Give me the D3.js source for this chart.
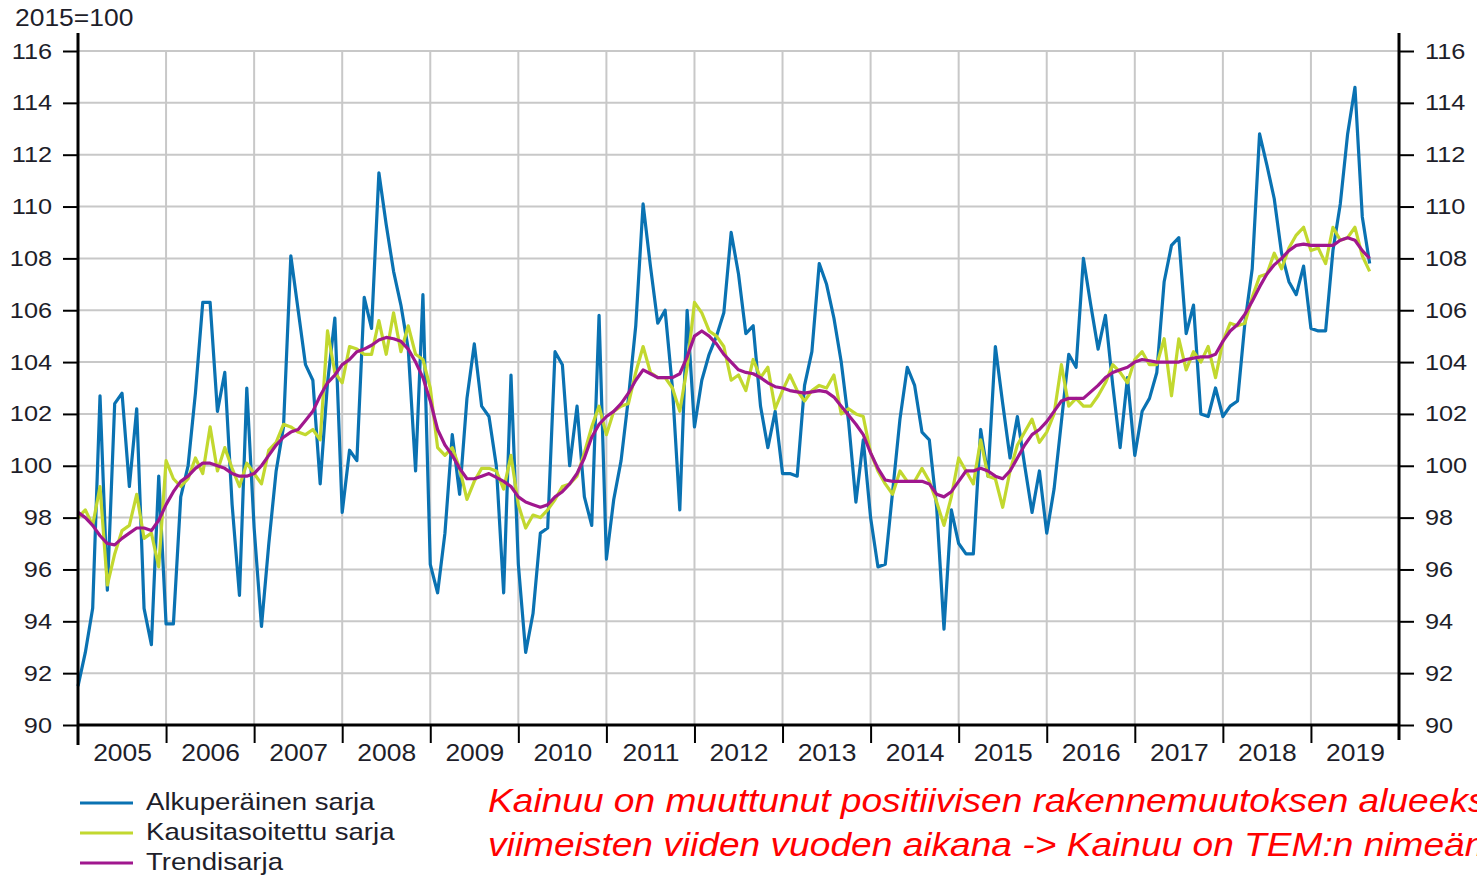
<!DOCTYPE html>
<html>
<head>
<meta charset="utf-8">
<script src="https://cdn.jsdelivr.net/npm/d3@7"></script>
<style>
  body { margin: 0; background: #fff; }
  svg { display: block; font-family: "Liberation Sans", Arial, sans-serif; }
</style>
</head>
<body>
<div id="chart"></div>
<script>
// --- data (monthly, Jan 2005 .. Sep 2019) ---
var startYear = 2005;
var years = [2005, 2006, 2007, 2008, 2009, 2010, 2011, 2012, 2013, 2014, 2015, 2016, 2017, 2018, 2019];
var yTicks = [90, 92, 94, 96, 98, 100, 102, 104, 106, 108, 110, 112, 114, 116];

var alkuperainen = [
  91.5, 92.8, 94.5, 102.7, 95.2, 102.4, 102.8, 99.2, 102.2, 94.5, 93.1, 99.6,
  93.9, 93.9, 98.8, 100.0, 102.8, 106.3, 106.3, 102.1, 103.6, 98.5, 95.0, 103.0,
  97.6, 93.8, 97.0, 99.8, 101.5, 108.1, 106.0, 103.9, 103.3, 99.3, 103.2, 105.7,
  98.2, 100.6, 100.2, 106.5, 105.3, 111.3, 109.3, 107.5, 106.2, 104.5, 99.8, 106.6,
  96.2, 95.1, 97.4, 101.2, 98.9, 102.6, 104.7, 102.3, 101.9, 100.0, 95.1, 103.5,
  96.2, 92.8, 94.3, 97.4, 97.6, 104.4, 103.9, 100.0, 102.3, 98.8, 97.7, 105.8,
  96.4, 98.7, 100.2, 102.6, 105.4, 110.1, 107.7, 105.5, 106.0, 103.0, 98.3, 106.0,
  101.5, 103.3, 104.3, 105.0, 105.9, 109.0, 107.4, 105.1, 105.4, 102.3, 100.7, 102.1,
  99.7, 99.7, 99.6, 103.1, 104.4, 107.8, 107.0, 105.7, 104.0, 101.7, 98.6, 101.0,
  98.0, 96.1, 96.2, 99.0, 101.8, 103.8, 103.1, 101.3, 101.0, 98.4, 93.7, 98.3,
  97.0, 96.6, 96.6, 101.4, 99.6, 104.6, 102.4, 100.3, 101.9, 100.0, 98.2, 99.8,
  97.4, 99.1, 101.7, 104.3, 103.8, 108.0, 106.2, 104.5, 105.8, 103.1, 100.7, 103.4,
  100.4, 102.1, 102.6, 103.6, 107.1, 108.5, 108.8, 105.1, 106.2, 102.0, 101.9, 103.0,
  101.9, 102.3, 102.5, 105.5, 107.6, 112.8, 111.6, 110.3, 108.2, 107.1, 106.6, 107.7,
  105.3, 105.2, 105.2, 108.3, 110.1, 112.8, 114.6, 109.6, 107.8
];

var kausitasoitettu = [
  98.0, 98.3, 97.7, 99.2, 95.4, 96.6, 97.5, 97.7, 98.9, 97.2, 97.4, 96.1,
  100.2, 99.5, 99.2, 99.5, 100.3, 99.7, 101.5, 99.8, 100.7, 99.9, 99.2, 100.1,
  99.7, 99.3, 100.6, 100.9, 101.6, 101.5, 101.3, 101.2, 101.4, 101.0, 105.2, 103.6,
  103.2, 104.6, 104.5, 104.3, 104.3, 105.6, 104.3, 105.9, 104.4, 105.4, 104.3, 104.1,
  103.0, 100.7, 100.4, 100.7, 99.9, 98.7, 99.4, 99.9, 99.9, 99.8, 99.1, 100.4,
  98.5, 97.6, 98.1, 98.0, 98.3, 98.7, 99.2, 99.3, 99.6, 100.5, 101.5, 102.3,
  101.2, 102.1, 102.3, 102.4, 103.6, 104.6, 103.6, 103.4, 103.4, 103.0, 102.1, 103.8,
  106.3, 105.9, 105.2, 105.0, 104.6, 103.3, 103.5, 102.9, 104.1, 103.4, 103.8, 102.2,
  102.9, 103.5, 102.9, 102.5, 102.9, 103.1, 103.0, 103.5, 102.0, 102.2, 102.0, 101.9,
  100.5, 99.8, 99.3, 98.9, 99.8, 99.4, 99.4, 99.9, 99.4, 98.6, 97.7, 98.8,
  100.3, 99.8, 99.3, 101.0, 99.6, 99.5, 98.4, 99.8, 100.8, 101.3, 101.8, 100.9,
  101.3, 102.0, 103.9, 102.3, 102.6, 102.3, 102.3, 102.7, 103.2, 103.9, 103.6, 103.2,
  104.1, 104.4, 103.9, 103.9, 104.9, 102.7, 104.9, 103.7, 104.4, 104.0, 104.6, 103.4,
  104.8, 105.5, 105.4, 105.5, 106.5, 107.3, 107.4, 108.2, 107.6, 108.4, 108.9, 109.2,
  108.3, 108.4, 107.8, 109.2, 108.7, 108.8, 109.2, 108.1, 107.5
];

var trendi = [
  98.2, 98.0, 97.7, 97.3, 97.0, 96.95, 97.2, 97.4, 97.6, 97.6, 97.5, 97.9,
  98.5, 99.0, 99.4, 99.6, 99.9, 100.1, 100.1, 100.0, 99.9, 99.7, 99.6, 99.6,
  99.7, 100.0, 100.4, 100.8, 101.1, 101.3, 101.4, 101.75, 102.1, 102.7, 103.2, 103.5,
  103.9, 104.1, 104.4, 104.5, 104.65, 104.85, 104.95, 104.9, 104.8, 104.5, 104.0, 103.4,
  102.5, 101.4, 100.8, 100.4, 99.9, 99.5, 99.5, 99.6, 99.7, 99.55, 99.4, 99.2,
  98.8, 98.6, 98.5, 98.4, 98.5, 98.8, 99.0, 99.3, 99.7, 100.3, 101.1, 101.6,
  101.9, 102.1, 102.4, 102.8, 103.3, 103.7, 103.55, 103.4, 103.4, 103.4, 103.55, 104.2,
  105.0, 105.2, 105.0, 104.7, 104.3, 104.0, 103.7, 103.6, 103.55, 103.4, 103.2, 103.05,
  103.0, 102.9, 102.85, 102.8, 102.85, 102.9, 102.85, 102.65, 102.3, 101.95, 101.6, 101.2,
  100.5, 99.9, 99.45, 99.4, 99.4, 99.4, 99.4, 99.4, 99.3, 98.9, 98.8, 99.0,
  99.4, 99.8, 99.8, 99.9, 99.8, 99.6, 99.5, 99.8, 100.3, 100.8, 101.2, 101.4,
  101.7, 102.1, 102.5, 102.6, 102.6, 102.6, 102.85, 103.1, 103.4, 103.6, 103.7, 103.8,
  104.0, 104.1, 104.05, 104.0, 104.0, 104.0, 104.0, 104.1, 104.15, 104.2, 104.2, 104.3,
  104.8, 105.2, 105.45, 105.85, 106.35, 106.9, 107.4, 107.75, 108.0, 108.3, 108.5, 108.55,
  108.5, 108.5, 108.5, 108.5, 108.7, 108.8, 108.7, 108.3, 108.0
];

var legendLabels = ["Alkuperäinen sarja", "Kausitasoitettu sarja", "Trendisarja"];
var seriesColors = ["#0a72b2", "#c2d82f", "#a0178e"];
var baseLabel = "2015=100";
var noteLines = [
  "Kainuu on muuttunut positiivisen rakennemuutoksen alueeksi",
  "viimeisten viiden vuoden aikana -> Kainuu on TEM:n nimeämä"
];

// --- layout ---
var svgWidth = 1477;
var svgHeight = 875;
var plot = { left: 78, right: 1399, top: 51, bottom: 725 };
var stretch = 1.15; // the reference text is a bit wide

var svg = d3.select("#chart")
  .append("svg")
  .attr("width", svgWidth)
  .attr("height", svgHeight);

var x = d3.scaleLinear()
  .domain([startYear, startYear + years.length])
  .range([plot.left, plot.right]);

var y = d3.scaleLinear()
  .domain([90, 116])
  .range([plot.bottom, plot.top]);

// gridlines
var grid = svg.append("g").attr("stroke", "#c8c8c8").attr("stroke-width", 2);
grid.selectAll(".vgrid")
  .data(years.slice(1))
  .enter()
  .append("line")
  .attr("x1", d => x(d)).attr("x2", d => x(d))
  .attr("y1", plot.top).attr("y2", plot.bottom);
grid.selectAll(".hgrid")
  .data(yTicks.slice(1))
  .enter()
  .append("line")
  .attr("x1", plot.left).attr("x2", plot.right)
  .attr("y1", d => y(d)).attr("y2", d => y(d));

// lines
function monthX(i) { return x(startYear + i / 12); }
var line = d3.line()
  .x((d, i) => monthX(i))
  .y(d => y(d));

[alkuperainen, kausitasoitettu, trendi].forEach(function(series, k) {
  svg.append("path")
    .datum(series)
    .attr("fill", "none")
    .attr("stroke", seriesColors[k])
    .attr("stroke-width", 3.2)
    .attr("stroke-linejoin", "round")
    .attr("d", line);
});

// axes
var leftAxis = svg.append("g")
  .attr("transform", `translate(${plot.left},0)`)
  .call(d3.axisLeft(y).tickValues(yTicks).tickSize(15).tickFormat(d3.format("d")));
var rightAxis = svg.append("g")
  .attr("transform", `translate(${plot.right},0)`)
  .call(d3.axisRight(y).tickValues(yTicks).tickSize(15).tickFormat(d3.format("d")));
var bottomTicks = svg.append("g")
  .attr("transform", `translate(0,${plot.bottom})`)
  .call(d3.axisBottom(x).tickValues(years.slice(1)).tickSize(18).tickFormat(""));
var bottomLabels = svg.append("g")
  .attr("transform", `translate(0,${plot.bottom})`)
  .call(d3.axisBottom(x).tickValues(years.map(d => d + 0.5)).tickSize(0).tickPadding(20)
    .tickFormat(d => Math.floor(d)));

[leftAxis, rightAxis, bottomTicks, bottomLabels].forEach(function(a) {
  a.select(".domain").remove();
  a.selectAll(".tick line").attr("stroke", "#000").attr("stroke-width", 2);
  a.selectAll("text").attr("fill", "#1e1e2a").attr("font-family", "Liberation Sans, Arial, sans-serif");
});
leftAxis.selectAll("text").attr("font-size", 22).attr("x", -26 / stretch)
  .attr("transform", `scale(${stretch},1)`);
rightAxis.selectAll("text").attr("font-size", 22).attr("x", 26 / stretch)
  .attr("transform", `scale(${stretch},1)`);
bottomLabels.selectAll("text").attr("font-size", 23)
  .attr("transform", `scale(${stretch},1)`);

// thick axis lines
var axisLines = svg.append("g").attr("stroke", "#000").attr("stroke-width", 3);
axisLines.append("line").attr("x1", plot.left).attr("x2", plot.left).attr("y1", 33).attr("y2", 745);
axisLines.append("line").attr("x1", plot.right).attr("x2", plot.right).attr("y1", 33).attr("y2", 740);
axisLines.append("line").attr("x1", plot.left).attr("x2", plot.right).attr("y1", plot.bottom).attr("y2", plot.bottom);

// base label
svg.append("text")
  .attr("transform", `translate(15,26) scale(${stretch},1)`)
  .attr("font-size", 23)
  .attr("fill", "#1e1e2a")
  .text(baseLabel);

// legend
var legend = svg.append("g");
legendLabels.forEach(function(label, k) {
  var ly = 803 + k * 30;
  legend.append("line")
    .attr("x1", 80).attr("x2", 133)
    .attr("y1", ly).attr("y2", ly)
    .attr("stroke", seriesColors[k])
    .attr("stroke-width", 3);
  legend.append("text")
    .attr("transform", `translate(146,${ly + 7}) scale(${stretch},1)`)
    .attr("font-size", 24)
    .attr("fill", "#1e1e2a")
    .text(label);
});

// red note (runs past the right edge, as in the source picture)
noteLines.forEach(function(t, k) {
  svg.append("text")
    .attr("transform", `translate(488,${812 + k * 44}) scale(1.125,1)`)
    .attr("font-size", 33)
    .attr("font-style", "italic")
    .attr("fill", "#ff0000")
    .text(t);
});
</script>
</body>
</html>
